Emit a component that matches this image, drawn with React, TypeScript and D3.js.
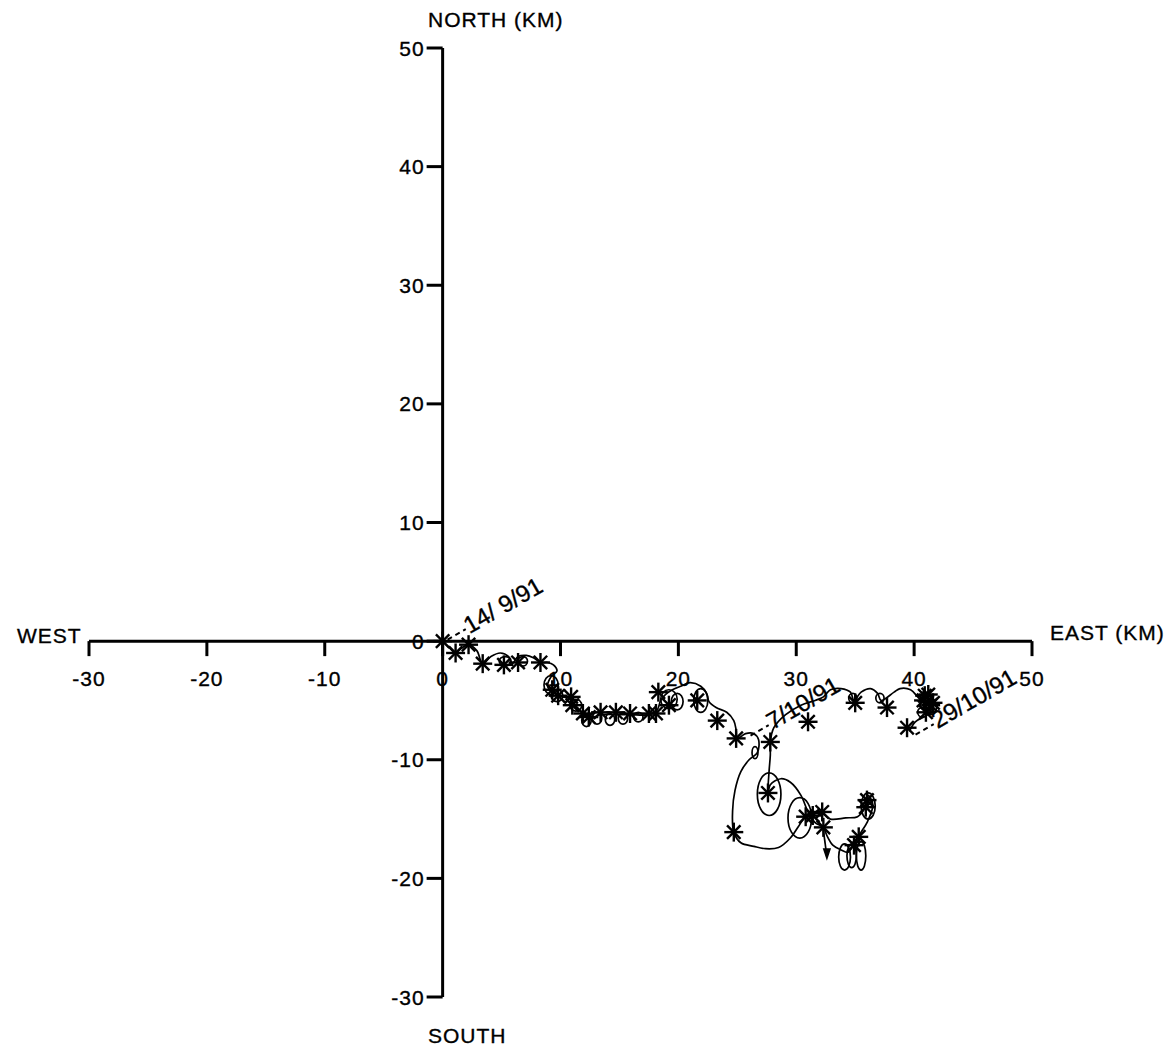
import React from "react";
import * as d3 from "d3";

// ---- data (km east, km north) ----
const xTicks = [-30, -20, -10, 0, 10, 20, 30, 40, 50];
const yTicks = [-30, -20, -10, 0, 10, 20, 30, 40, 50];

// drifter track waypoints
const trackEast = [
  0, 0.6, 1.1, 1.6, 2.2, 2.9, 3.4, 4.1, 4.9, 5.6, 5.9, 6.4, 7.1, 7.7, 8.3, 8.9, 9.4, 9.7, 9.2, 8.9,
  9.3, 10.0, 10.9, 11.3, 11.9, 12.6, 13.4, 14.7, 15.9, 17.5, 18.2, 18.5, 18.9, 19.5, 20.2, 21.0, 21.9, 22.4, 22.6, 23.2,
  24.1, 24.7, 24.9, 25.0, 25.7, 26.4, 26.8, 26.7, 26.0, 25.3, 24.8, 24.6, 24.7, 25.3, 26.4, 27.4, 28.5, 29.5, 30.2, 30.8,
  31.6, 32.3, 32.9, 34.2, 35.2, 35.8, 36.0, 36.1, 36.5, 36.0, 35.5, 35.1, 34.8, 34.4, 33.8, 33.1, 32.6, 32.3, 31.6, 31.0,
  30.4, 29.5, 28.7, 27.8, 27.6, 27.7, 27.8, 27.8, 28.1, 29.1, 30.4, 31.6, 32.3, 32.9, 33.8, 34.6, 34.9, 35.5, 36.3, 36.9,
  37.2, 38.3, 38.8, 39.7, 40.3, 40.8, 41.2, 41.4, 41.0, 40.1, 39.6,
];
const trackNorth = [
  0, -0.6, -1.0, -0.6, -0.3, -0.8, -1.9, -1.3, -1.0, -1.3, -1.9, -1.3, -1.2, -1.4, -1.8, -1.8, -2.0, -2.5, -3.0, -3.8,
  -4.3, -4.6, -4.9, -5.5, -6.1, -6.5, -6.2, -6.2, -6.2, -6.2, -5.8, -5.0, -4.5, -4.1, -3.8, -3.5, -3.8, -4.4, -5.1, -5.6,
  -6.0, -6.7, -7.5, -8.2, -7.8, -7.8, -8.3, -9.4, -10.0, -11.0, -12.6, -14.3, -16.1, -17.0, -17.3, -17.5, -17.4, -16.6, -15.6, -14.8,
  -14.5, -14.6, -15.0, -14.9, -14.8, -14.1, -13.4, -13.0, -13.8, -15.3, -16.1, -16.8, -17.3, -17.8, -17.6, -17.2, -16.4, -15.7, -15.3, -14.4,
  -13.0, -11.9, -11.6, -12.1, -12.8, -10.9, -9.6, -8.5, -7.3, -6.2, -5.4, -5.0, -4.7, -4.1, -4.0, -4.3, -5.0, -4.3, -4.0, -4.4,
  -5.0, -4.3, -4.0, -4.1, -4.7, -5.2, -5.4, -6.0, -6.3, -6.8, -7.6,
];

// inertial loops: centre east, centre north, half-width (km), half-height (km)
const loopEast = [5.3, 6.8, 9.2, 9.7, 11.3, 12.2, 13.1, 14.2, 15.3, 16.6, 19.2, 19.9, 21.9, 26.5, 27.7, 30.3, 36.1, 34.1, 34.7, 35.5, 34.8, 37.1, 41.1, 41.4, 40.7];
const loopNorth = [-1.7, -1.7, -3.7, -4.6, -5.4, -6.7, -6.5, -6.6, -6.5, -6.4, -4.9, -5.1, -5.0, -9.4, -12.9, -14.9, -13.9, -18.2, -18.1, -18.1, -4.8, -4.8, -5.2, -5.6, -6.0];
const loopRx = [0.5, 0.4, 0.6, 0.5, 0.5, 0.4, 0.4, 0.4, 0.4, 0.4, 0.7, 0.5, 0.6, 0.25, 1.0, 1.0, 0.6, 0.5, 0.4, 0.4, 0.35, 0.35, 0.6, 0.5, 0.4];
const loopRy = [0.4, 0.4, 0.8, 0.5, 0.5, 0.5, 0.5, 0.5, 0.5, 0.4, 0.8, 0.7, 1.0, 0.5, 1.8, 1.7, 1.1, 1.1, 1.0, 1.2, 0.4, 0.4, 0.7, 0.6, 0.4];

// daily fixes (asterisks)
const fixEast = [
  0, 1.1, 2.2, 3.4, 5.2, 6.4, 8.3, 9.3, 9.8, 10.9, 11.0, 11.9, 12.4, 13.4, 14.7, 15.9, 17.5, 18.1, 18.3, 19.2, 21.6, 23.3,
  24.9, 24.7, 27.6, 30.8, 31.4, 32.2, 32.3, 35.9, 36.0, 35.3, 34.9, 27.8, 31.0, 35.0, 37.7, 39.4, 40.8, 41.2, 41.4, 41.0, 40.9, 41.6,
];
const fixNorth = [
  0, -1.0, -0.3, -1.9, -2.0, -1.8, -1.8, -4.1, -4.6, -4.7, -5.4, -6.1, -6.4, -6.0, -6.0, -6.1, -6.1, -6.1, -4.3, -5.4, -5.0, -6.7,
  -8.2, -16.1, -12.8, -14.8, -14.7, -14.4, -15.7, -14.0, -13.4, -16.5, -17.2, -8.5, -6.8, -5.2, -5.6, -7.3, -5.0, -4.5, -5.4, -6.0, -4.6, -5.2,
];

// date labels
const dateText = ["14/ 9/91", "7/10/91", "29/10/91"];
const dateEast = [0.2, 25.9, 39.9];
const dateNorth = [0, -8.1, -8.0];

// gap arrow
const arrowEast = [32.3, 32.6];
const arrowNorth = [-15.9, -18.2];

const W = 1168;
const H = 1050;
const FONT = "'Liberation Sans', Arial, Helvetica, sans-serif";

export default function App() {
  const x = d3.scaleLinear().domain([-30, 50]).range([89, 1032]);
  const y = d3.scaleLinear().domain([-30, 50]).range([997, 48]);
  const x0 = x(0);
  const y0 = y(0);

  const trackPts: [number, number][] = trackEast.map((e, i) => [e, trackNorth[i]]);
  const line = d3
    .line<[number, number]>()
    .x((d) => x(d[0]))
    .y((d) => y(d[1]))
    .curve(d3.curveCatmullRom.alpha(0.5));

  const kx = x(1) - x(0);
  const ky = y(0) - y(1);
  const ang = -30;
  const rad = (ang * Math.PI) / 180;

  const star = (cx: number, cy: number, i: number) => {
    const r = 9.5;
    const segs = [0, 45, 90, 135].map((a) => {
      const t = (a * Math.PI) / 180;
      return (
        <line
          key={a}
          x1={cx - r * Math.cos(t)}
          y1={cy - r * Math.sin(t)}
          x2={cx + r * Math.cos(t)}
          y2={cy + r * Math.sin(t)}
        />
      );
    });
    return (
      <g key={i} stroke="#000" strokeWidth={2.4}>
        {segs}
      </g>
    );
  };

  const textStyle = { letterSpacing: "1px" };

  return (
    <svg
      width={W}
      height={H}
      style={{ position: "absolute", left: 0, top: 0, background: "#fff" }}
      fontFamily={FONT}
    >
      <rect width={W} height={H} fill="#fff" />
      {/* axes */}
      <g stroke="#000" strokeWidth={3} fill="none">
        <line x1={x(-30)} x2={x(50)} y1={y0} y2={y0} />
        <line x1={x0} x2={x0} y1={y(50)} y2={y(-30)} />
        {xTicks.map((t) => (
          <line key={"xt" + t} x1={x(t)} x2={x(t)} y1={y0} y2={y0 + 15} />
        ))}
        {yTicks.map((t) => (
          <line key={"yt" + t} x1={x0} x2={x0 - 16} y1={y(t)} y2={y(t)} />
        ))}
      </g>
      <g fontSize={21} fill="#000" stroke="#000" strokeWidth={0.35} style={textStyle}>
        {xTicks.map((t) => (
          <text key={"xl" + t} x={x(t)} y={y0 + 45} textAnchor="middle">
            {t}
          </text>
        ))}
        {yTicks.map((t) => (
          <text key={"yl" + t} x={x0 - 18} y={y(t) + 7.5} textAnchor="end">
            {t}
          </text>
        ))}
        <text x={428} y={27}>NORTH (KM)</text>
        <text x={428} y={1043}>SOUTH</text>
        <text x={17} y={643}>WEST</text>
        <text x={1050} y={640}>EAST (KM)</text>
      </g>

      {/* track */}
      <path d={line(trackPts) || ""} fill="none" stroke="#000" strokeWidth={1.7} />
      <g fill="none" stroke="#000" strokeWidth={1.7}>
        {loopEast.map((e, i) => (
          <ellipse key={"lp" + i} cx={x(e)} cy={y(loopNorth[i])} rx={loopRx[i] * kx} ry={loopRy[i] * ky} />
        ))}
      </g>
      {/* gap arrow */}
      <g stroke="#000" strokeWidth={1.7}>
        <line x1={x(arrowEast[0])} y1={y(arrowNorth[0])} x2={x(arrowEast[1])} y2={y(arrowNorth[1])} />
        <path
          d={`M${x(arrowEast[1]) - 3},${y(arrowNorth[1]) - 8} L${x(arrowEast[1]) + 3},${y(arrowNorth[1]) - 8} L${x(arrowEast[1])},${y(arrowNorth[1]) + 1} Z`}
          fill="#000"
        />
      </g>

      {/* daily fixes */}
      {fixEast.map((e, i) => star(x(e), y(fixNorth[i]), i))}

      {/* date labels */}
      {dateText.map((s, i) => {
        const ax = x(dateEast[i]);
        const ay = y(dateNorth[i]);
        const lx1 = ax + 3 * Math.cos(rad);
        const ly1 = ay + 3 * Math.sin(rad);
        const lx2 = ax + 24 * Math.cos(rad);
        const ly2 = ay + 24 * Math.sin(rad);
        const tx = ax + 26 * Math.cos(rad) + 2;
        const ty = ay + 26 * Math.sin(rad) + 6;
        return (
          <g key={"d" + i}>
            <line x1={lx1} y1={ly1} x2={lx2} y2={ly2} stroke="#000" strokeWidth={2} strokeDasharray="5,4" />
            <text
              x={tx}
              y={ty}
              fontSize={24}
              transform={`rotate(${ang},${tx},${ty})`}
              fill="#000"
              stroke="#000"
              strokeWidth={0.35}
            >
              {s}
            </text>
          </g>
        );
      })}
    </svg>
  );
}
